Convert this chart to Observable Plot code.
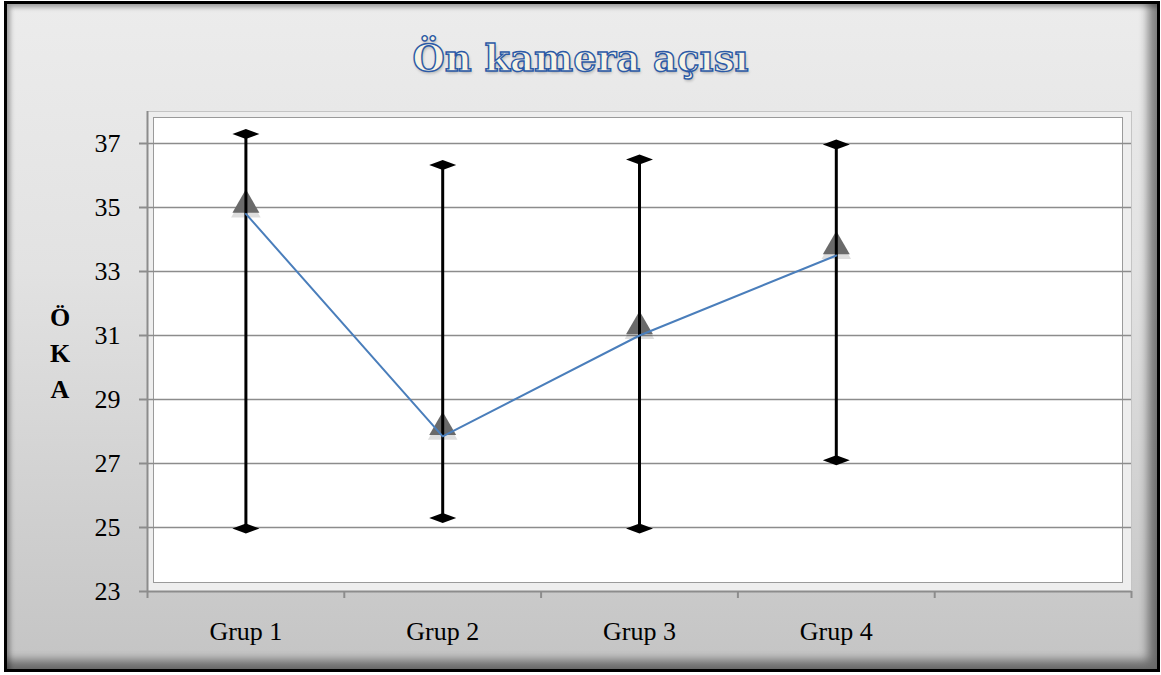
<!DOCTYPE html>
<html>
<head>
<meta charset="utf-8">
<script src="https://cdn.jsdelivr.net/npm/d3@7"></script>
<script src="https://cdn.jsdelivr.net/npm/@observablehq/plot@0.6"></script>
<style>
  html, body { margin: 0; padding: 0; background: #fff; }
  #wrap { position: relative; width: 1161px; height: 675px; overflow: hidden; background: #fff; }
  #bg { position: absolute; left: 4px; top: 1px; right: 1px; bottom: 3px;
        border: 3px solid #000; box-sizing: border-box;
        background: linear-gradient(#ececec, #e2e2e2 40%, #c4c4c4);
        box-shadow: inset -9px -9px 10px rgba(0,0,0,0.45), inset 3px 3px 5px rgba(0,0,0,0.35); }
  #title { position: absolute; left: 0; top: 33px; width: 1161px; text-align: center;
           font-family: "DejaVu Serif", serif; font-weight: bold; font-size: 37px; line-height: 50px;
           color: #f7f4e6; -webkit-text-stroke: 1.4px #2c5aa6;
           text-shadow: 1px 2px 3px rgba(0,0,0,0.25); }
  #ylab { position: absolute; left: 45px; top: 300px; width: 30px; text-align: center;
          font-family: "Liberation Serif", serif; font-weight: bold; font-size: 26px; line-height: 36px; color: #000; }
  #chart { position: absolute; left: 0; top: 0; }
</style>
</head>
<body>
<div id="wrap">
  <div id="bg"></div>
  <div id="chart"></div>
  <div id="title">Ön kamera açısı</div>
  <div id="ylab">Ö<br>K<br>A</div>
</div>
<script>
const categories = ["Grup 1", "Grup 2", "Grup 3", "Grup 4"];
const high = [37.3, 36.33, 36.5, 36.97];
const low = [24.97, 25.3, 24.97, 27.1];
const mean = [34.8, 27.85, 31.0, 33.5];
const yTicks = [23, 25, 27, 29, 31, 33, 35, 37];
const slots = 5;

const rows = categories.map((c, i) => ({cat: c, x: i + 0.5, high: high[i], low: low[i], mean: mean[i]}));

const flatDiamond = {
  draw(context) {
    const w = 13.5, h = 5;
    context.moveTo(-w, 0);
    context.lineTo(0, -h);
    context.lineTo(w, 0);
    context.lineTo(0, h);
    context.closePath();
  }
};

const gridGray = "#8c8c8c";

const chart = Plot.plot({
  width: 1161,
  height: 675,
  marginTop: 111,
  marginBottom: 84,
  marginLeft: 147,
  marginRight: 30,
  style: {background: "transparent", fontFamily: "Liberation Serif, serif", fontSize: "26px", color: "#000"},
  x: {domain: [0, slots], axis: null},
  y: {domain: [23, 38], axis: null},
  marks: [
    Plot.frame({fill: "#eeeeee", stroke: "#c4c4c4"}),
    Plot.frame({fill: "white", stroke: "#9a9a9a", insetLeft: 6, insetTop: 6, insetRight: 9, insetBottom: 9}),
    Plot.ruleY(yTicks.filter(d => d > 23), {stroke: gridGray, strokeWidth: 1.5}),
    Plot.ruleX([0], {stroke: gridGray, strokeWidth: 2}),
    Plot.ruleY([23], {stroke: gridGray, strokeWidth: 2}),
    Plot.axisY(yTicks, {tickSize: 8, tickPadding: 19, stroke: gridGray, strokeWidth: 2, fill: "#000", label: null, fontSize: 26}),
    Plot.axisX(d3.range(slots + 1), {tickSize: 7, tickFormat: () => "", stroke: gridGray, strokeWidth: 2, label: null}),
    Plot.axisX(rows.map(d => d.x), {tickSize: 0, tickPadding: 30, tickFormat: d => categories[Math.floor(d)], fill: "#000", label: null, fontSize: 26}),
    Plot.dot(rows, {x: "x", y: "mean", symbol: "triangle", r: 11, fill: "#000", fillOpacity: 0.13, dy: -5}),
    Plot.dot(rows, {x: "x", y: "mean", symbol: "triangle", r: 10, fill: "#6a6a6a", dy: -9}),
    Plot.ruleX(rows, {x: "x", y1: "low", y2: "high", stroke: "#000", strokeWidth: 3}),
    Plot.dot(rows, {x: "x", y: "high", symbol: flatDiamond, fill: "#000", stroke: null}),
    Plot.dot(rows, {x: "x", y: "low", symbol: flatDiamond, fill: "#000", stroke: null}),
    Plot.line(rows, {x: "x", y: "mean", stroke: "#4a7ebb", strokeWidth: 2})
  ]
});
document.getElementById("chart").appendChild(chart);
</script>
</body>
</html>
